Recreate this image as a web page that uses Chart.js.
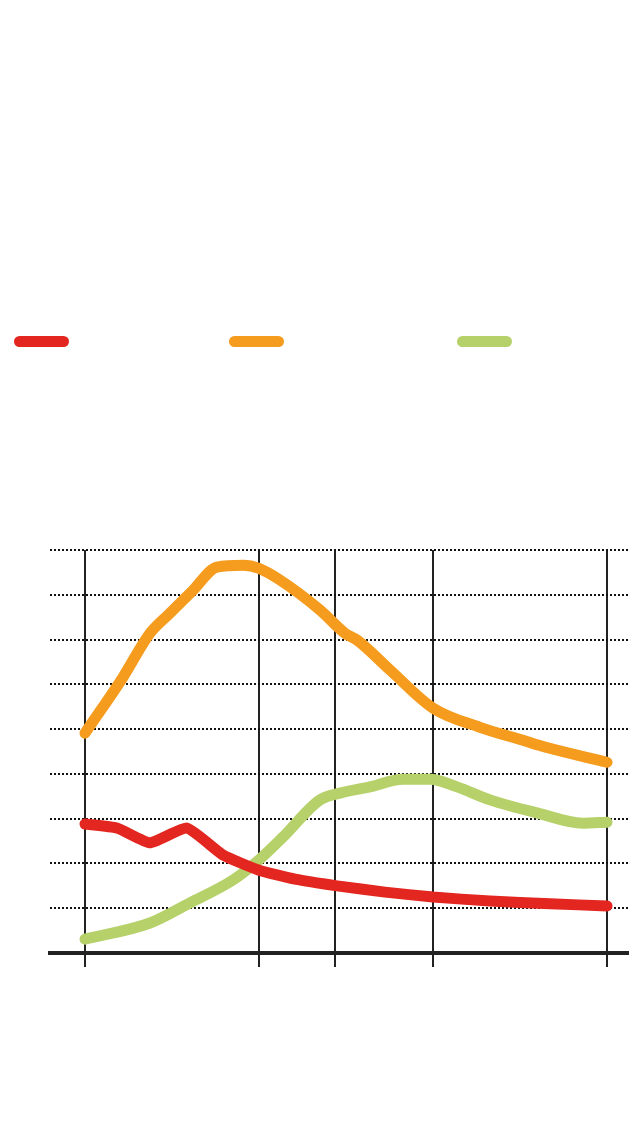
<!DOCTYPE html>
<html>
  <head>
    <meta charset="UTF-8">
    <title>Chart</title>
    <script src="https://cdn.jsdelivr.net/npm/chart.js"></script>
    <style>
      body { margin: 0; background: #fff; }
      #wrap { position: relative; width: 640px; height: 1140px; }
      #legend span { position: absolute; top: 336px; width: 55px; height: 11px; border-radius: 5.5px; }
    </style>
  </head>
  <body>
    <div id="wrap">
      <div id="legend"></div>
      <canvas id="grafico" width="640" height="1140"></canvas>
    </div>

    <script>
      // x positions of the vertical lines
      const xTicks = [0, 20, 28.74, 40, 60]

      const xRed = [0, 3.68, 7.47, 11.72, 15.86, 20, 24.14, 28.97, 34.48, 40, 46.55, 53.45, 60]
      const yRed = [2.88, 2.79, 2.46, 2.79, 2.19, 1.85, 1.65, 1.50, 1.36, 1.25, 1.16, 1.10, 1.05]

      const xOrange = [0, 4.37, 7.47, 9.77, 12.41, 15.17, 18.16, 20, 22.41, 27.01, 29.89, 31.26, 35.06, 40, 45.40, 50.34, 52.87, 60]
      const yOrange = [4.91, 6.16, 7.14, 7.59, 8.10, 8.62, 8.66, 8.59, 8.33, 7.66, 7.14, 6.99, 6.32, 5.47, 5.04, 4.75, 4.60, 4.26]

      const xGreen = [0, 7.47, 12.07, 17.01, 20, 22.76, 27.01, 29.31, 32.76, 36.55, 39.66, 42.76, 46.55, 51.95, 57.24, 60]
      const yGreen = [0.31, 0.67, 1.12, 1.63, 2.08, 2.59, 3.42, 3.57, 3.71, 3.88, 3.88, 3.71, 3.42, 3.13, 2.90, 2.92]

      const pontos = (xs, ys) => xs.map((x, i) => ({ x: x, y: ys[i] }))

      const linha = (dados, cor, modo) => ({
        data: dados,
        borderColor: cor,
        backgroundColor: cor,
        borderWidth: 11,
        borderCapStyle: 'round',
        borderJoinStyle: 'round',
        pointRadius: 0,
        tension: 0.15,
        cubicInterpolationMode: modo
      })

      const datasets = [
        linha(pontos(xRed, yRed), '#e3261f', 'default'),
        linha(pontos(xOrange, yOrange), '#f59c1f', 'monotone'),
        linha(pontos(xGreen, yGreen), '#b6d16a', 'monotone')
      ]

      // legend swatches
      const legendLeft = [14, 229, 457]
      const legend = document.getElementById('legend')
      datasets.forEach((d, i) => {
        const s = document.createElement('span')
        s.style.left = legendLeft[i] + 'px'
        s.style.background = d.borderColor
        legend.appendChild(s)
      })

      const ctx = document.getElementById('grafico')
      new Chart(ctx, {
        type: 'line',
        data: { datasets: datasets },
        options: {
          responsive: false,
          animation: false,
          layout: { padding: { left: 50, right: 12, top: 550, bottom: 173 } },
          plugins: { legend: { display: false }, tooltip: { enabled: false } },
          scales: {
            x: {
              type: 'linear',
              min: -4.02,
              max: 62.41,
              afterBuildTicks: s => { s.ticks = xTicks.map(v => ({ value: v })) },
              ticks: { display: false },
              grid: { color: '#222', lineWidth: 2, tickLength: 14 },
              border: { display: true, color: '#222', width: 4 }
            },
            y: {
              min: 0,
              max: 9,
              ticks: { display: false, stepSize: 1 },
              grid: { color: '#111', lineWidth: 2, drawTicks: false },
              border: { display: false, dash: [2, 2] }
            }
          }
        }
      })
    </script>
  </body>
</html>
